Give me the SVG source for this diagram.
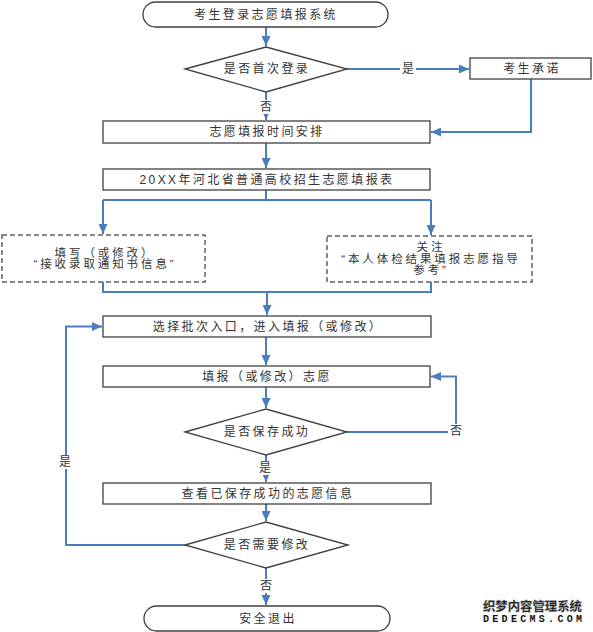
<svg xmlns="http://www.w3.org/2000/svg" width="593" height="632" viewBox="0 0 593 632">
<defs>
<marker id="arr" markerUnits="userSpaceOnUse" markerWidth="10" markerHeight="9" refX="10" refY="4.5" orient="auto">
<path d="M0,0 L10,4.5 L0,9 z" fill="#4A7EBB"/>
</marker>
<style>
.box{fill:#fff;stroke:#404040;stroke-width:1.3}
.dash{fill:#fff;stroke:#606060;stroke-width:1.5;stroke-dasharray:5 3}
.t{font-family:"Liberation Sans","Noto Sans CJK SC",sans-serif;font-size:12px;letter-spacing:2.4px;fill:#333;text-anchor:middle;dominant-baseline:central}
.s{font-size:11.5px;letter-spacing:2.9px}
.lbl{font-family:"Liberation Sans","Noto Sans CJK SC",sans-serif;font-size:12px;fill:#333;text-anchor:middle;dominant-baseline:central}
.c{fill:none;stroke:#4A7EBB;stroke-width:2}
.a{marker-end:url(#arr)}
.bg{fill:#fff}
</style>
</defs>
<rect width="593" height="632" fill="#fff"/>
<g id="connectors">
<path class="c a" d="M266,27 V46"/>
<path class="c a" d="M347,69 H469"/>
<path class="c a" d="M266,92 V120"/>
<path class="c a" d="M531,79 V132 H431"/>
<path class="c a" d="M266,143 V168"/>
<path class="c" d="M266,190 V200 M103,200 H431"/>
<path class="c a" d="M103,200 V234"/>
<path class="c a" d="M431,200 V235"/>
<path class="c" d="M103,282 V292 H431 V282"/>
<path class="c a" d="M267,292 V315"/>
<path class="c a" d="M266,337 V365"/>
<path class="c a" d="M266,387 V408"/>
<path class="c a" d="M347,432 H456 V376.5 H431"/>
<path class="c a" d="M266,455 V482"/>
<path class="c a" d="M266,504 V521"/>
<path class="c a" d="M185,545 H66 V326.5 H102"/>
<path class="c a" d="M266,568 V605"/>
<rect class="bg" x="400" y="62" width="16" height="14"/>
<text class="lbl" x="408" y="69">是</text>
<rect class="bg" x="258" y="100" width="16" height="14"/>
<text class="lbl" x="266" y="107">否</text>
<rect class="bg" x="448" y="424" width="16" height="14"/>
<text class="lbl" x="456" y="431">否</text>
<rect class="bg" x="257" y="461" width="16" height="14"/>
<text class="lbl" x="265" y="468">是</text>
<rect class="bg" x="57" y="455" width="16" height="14"/>
<text class="lbl" x="65" y="462">是</text>
<rect class="bg" x="258" y="579" width="16" height="14"/>
<text class="lbl" x="266" y="586">否</text>
</g>
<g id="start">
<rect class="box" x="143" y="2" width="245" height="25" rx="12.5"/>
<text class="t" x="266" y="14.5">考生登录志愿填报系统</text>
</g>
<g id="firstLogin">
<polygon class="box" points="185,69 266,47 347,69 266,92"/>
<text class="t" x="267" y="69">是否首次登录</text>
</g>
<g id="promise">
<rect class="box" x="470" y="58" width="121" height="21"/>
<text class="t" x="532" y="68.5">考生承诺</text>
</g>
<g id="schedule">
<rect class="box" x="103" y="121" width="327" height="22"/>
<text class="t" x="267" y="132">志愿填报时间安排</text>
</g>
<g id="form">
<rect class="box" x="103" y="169" width="327" height="21"/>
<text class="t" x="267" y="179.5">20XX年河北省普通高校招生志愿填报表</text>
</g>
<g id="notice">
<rect class="dash" x="2" y="235" width="203" height="47"/>
<text class="t s" x="105" y="252.5">填写（或修改）</text>
<text class="t s" x="105" y="264">“接收录取通知书信息”</text>
</g>
<g id="health">
<rect class="dash" x="327" y="236" width="205" height="46"/>
<text class="t s" x="431" y="247">关注</text>
<text class="t s" x="431" y="258.5">“本人体检结果填报志愿指导</text>
<text class="t s" x="431" y="270">参考”</text>
</g>
<g id="batch">
<rect class="box" x="103" y="316" width="328" height="21"/>
<text class="t" x="268" y="326.5">选择批次入口，进入填报（或修改）</text>
</g>
<g id="fill">
<rect class="box" x="103" y="366" width="327" height="21"/>
<text class="t" x="267" y="376.5">填报（或修改）志愿</text>
</g>
<g id="saved">
<polygon class="box" points="185,432 266,409 347,432 266,455"/>
<text class="t" x="267" y="432">是否保存成功</text>
</g>
<g id="view">
<rect class="box" x="103" y="483" width="328" height="21"/>
<text class="t" x="268" y="493.5">查看已保存成功的志愿信息</text>
</g>
<g id="modify">
<polygon class="box" points="185,545 266,522 348,545 266,568"/>
<text class="t" x="267" y="545">是否需要修改</text>
</g>
<g id="exit">
<rect class="box" x="144" y="606" width="246" height="25" rx="12.5"/>
<text class="t" x="268" y="618.5">安全退出</text>
</g>
<g id="watermark">
<text x="483" y="611" textLength="99" lengthAdjust="spacingAndGlyphs" style="font-family:'Noto Sans CJK SC',sans-serif;font-size:12.5px;font-weight:bold;fill:#111;stroke:#888;stroke-width:0.4">织梦内容管理系统</text>
<text x="483" y="622" textLength="99" lengthAdjust="spacing" style="font-family:'Liberation Mono',monospace;font-size:10px;font-weight:bold;fill:#111">DEDECMS.COM</text>
</g>
</svg>
